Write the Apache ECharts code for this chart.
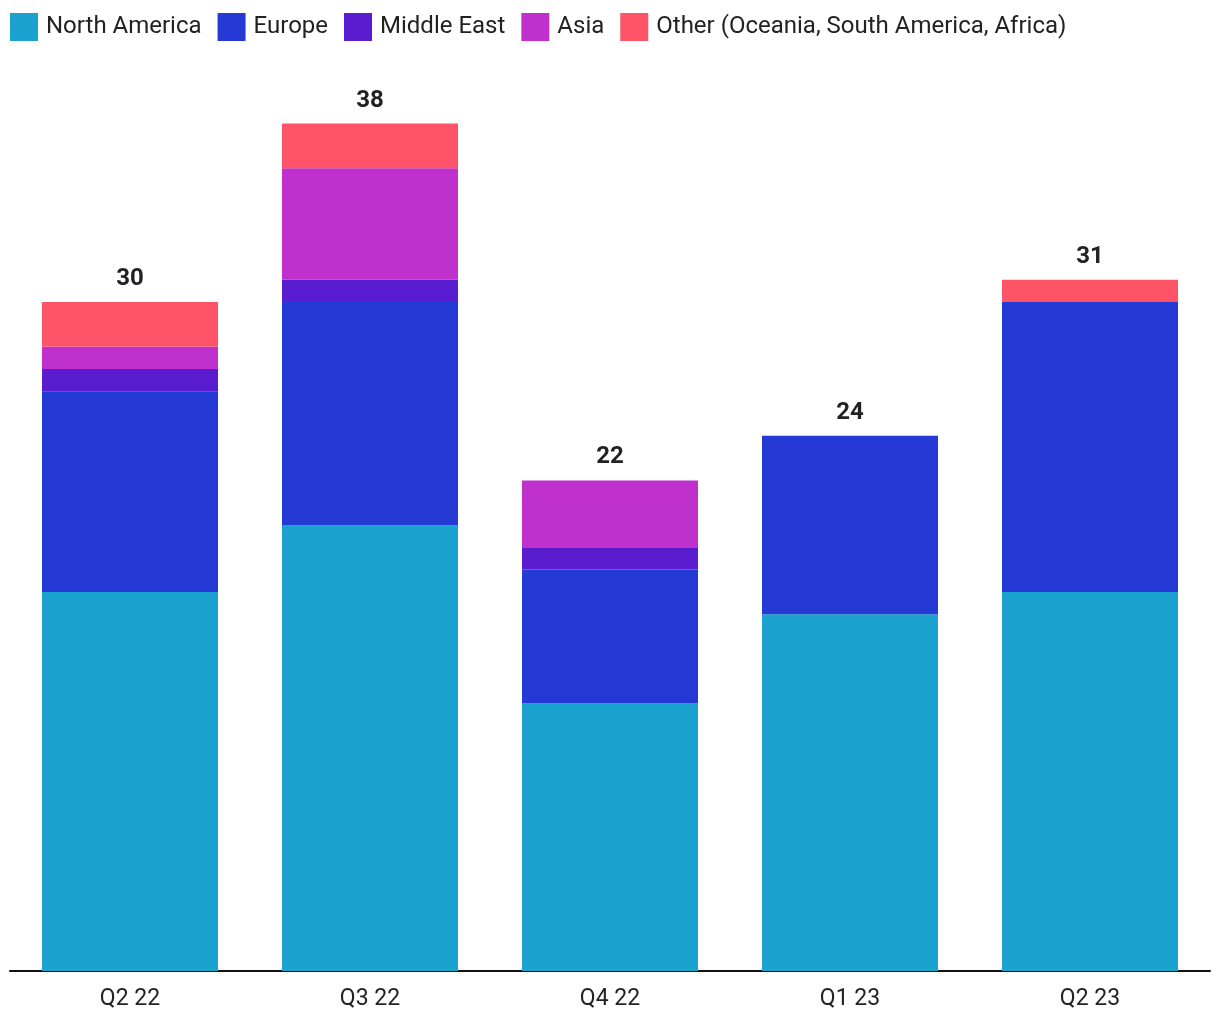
<!DOCTYPE html>
<html>
<head>
<meta charset="utf-8">
<script src="https://cdn.jsdelivr.net/npm/echarts@6/dist/echarts.min.js"></script>
<style>html,body{margin:0;padding:0;background:#fff;}#c{width:1220px;height:1020px;}</style>
</head>
<body>
<div id="c"></div>
<script>
const categories = ['Q2 22', 'Q3 22', 'Q4 22', 'Q1 23', 'Q2 23'];
const northAmerica = [17, 20, 12, 16, 17];
const europe = [9, 10, 6, 8, 13];
const middleEast = [1, 1, 1, 0, 0];
const asia = [1, 5, 3, 0, 0];
const other = [2, 2, 0, 0, 1];

const seriesDefs = [
  { name: 'North America', data: northAmerica, color: '#1aa3cf' },
  { name: 'Europe', data: europe, color: '#2539d4' },
  { name: 'Middle East', data: middleEast, color: '#5a1ccf' },
  { name: 'Asia', data: asia, color: '#bf30cc' },
  { name: 'Other (Oceania, South America, Africa)', data: other, color: '#ff5468' }
];
const totals = categories.map((c, i) => seriesDefs.reduce((s, d) => s + d.data[i], 0));

const chart = echarts.init(document.getElementById('c'));
const series = seriesDefs.map(d => ({
  name: d.name, type: 'bar', stack: 'all', data: d.data, barWidth: 176,
  itemStyle: { color: d.color }, emphasis: { disabled: true }
}));
series.push({
  name: 'total', type: 'bar', stack: 'all', data: categories.map(() => 0), barWidth: 176,
  itemStyle: { color: 'transparent' },
  label: {
    show: true, position: 'top', distance: 11,
    formatter: p => totals[p.dataIndex],
    color: '#222', fontSize: 24, fontWeight: 'bold', fontFamily: 'Roboto'
  }
});

chart.setOption({
  animation: false,
  textStyle: { fontFamily: 'Roboto' },
  legend: {
    data: seriesDefs.map(d => d.name),
    left: 10, top: 13, padding: 0, itemWidth: 28, itemHeight: 28, itemGap: 16, icon: 'rect',
    textStyle: { fontSize: 24, color: '#222', fontFamily: 'Roboto', padding: [0, 0, 0, 3] }
  },
  grid: { left: 10, right: 10, top: 79, bottom: 49 },
  xAxis: {
    type: 'category', data: categories,
    axisLine: { lineStyle: { color: '#111', width: 2 } },
    axisTick: { show: false },
    axisLabel: { fontSize: 23, color: '#222', margin: 17, fontFamily: 'Roboto' }
  },
  yAxis: { type: 'value', min: 0, max: 40, show: false, splitLine: { show: false } },
  series: series
});
</script>
</body>
</html>
